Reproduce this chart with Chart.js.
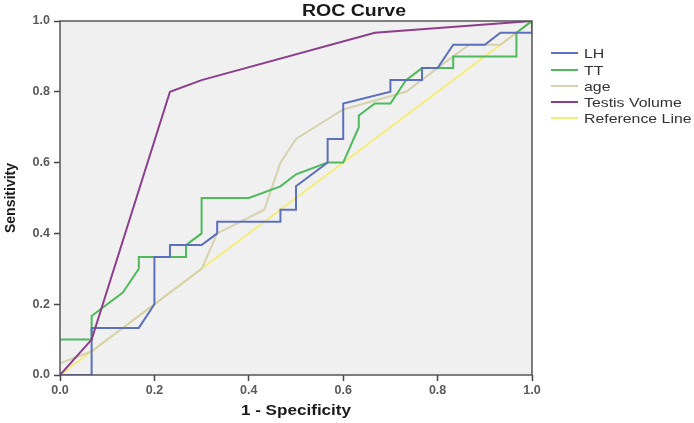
<!DOCTYPE html>
<html>
<head>
<meta charset="utf-8">
<script src="https://cdn.jsdelivr.net/npm/chart.js@4"></script>
<style>
  html, body { margin: 0; padding: 0; background: #ffffff; }
  #wrap { width: 694px; height: 423px; }
</style>
</head>
<body>
<div id="wrap"><canvas id="myChart" width="694" height="423"></canvas></div>
<script>
// ROC curve points (1 - specificity, sensitivity)
var lhX = [0, 0.067, 0.067, 0.167, 0.2, 0.2, 0.233, 0.233, 0.3, 0.333, 0.333, 0.467, 0.467, 0.5, 0.5, 0.567, 0.567, 0.6, 0.6, 0.7, 0.7, 0.767, 0.767, 0.8, 0.833, 0.9, 0.933, 1, 1];
var lhY = [0, 0, 0.133, 0.133, 0.2, 0.333, 0.333, 0.367, 0.367, 0.4, 0.433, 0.433, 0.467, 0.467, 0.533, 0.6, 0.667, 0.667, 0.767, 0.8, 0.833, 0.833, 0.867, 0.867, 0.933, 0.933, 0.967, 0.967, 1];

var ttX = [0, 0.067, 0.067, 0.133, 0.167, 0.167, 0.267, 0.267, 0.3, 0.3, 0.4, 0.467, 0.5, 0.567, 0.6, 0.633, 0.633, 0.667, 0.7, 0.733, 0.767, 0.833, 0.833, 0.967, 0.967, 1];
var ttY = [0.1, 0.1, 0.167, 0.233, 0.3, 0.333, 0.333, 0.367, 0.4, 0.5, 0.5, 0.533, 0.567, 0.6, 0.6, 0.7, 0.733, 0.767, 0.767, 0.833, 0.867, 0.867, 0.9, 0.9, 0.967, 1];

var ageX = [0, 0.067, 0.3, 0.333, 0.433, 0.467, 0.5, 0.6, 0.733, 0.833, 0.867, 0.933, 1];
var ageY = [0.033, 0.067, 0.3, 0.4, 0.467, 0.6, 0.667, 0.75, 0.8, 0.9, 0.933, 0.933, 1];

var tvX = [0, 0.067, 0.233, 0.3, 0.667, 1];
var tvY = [0, 0.1, 0.8, 0.833, 0.967, 1];

var refX = [0, 1];
var refY = [0, 1];

var labels = ["LH", "TT", "age", "Testis Volume", "Reference Line"];
var colors = ["rgb(92,112,190)", "rgb(78,186,92)", "rgb(214,209,174)", "rgb(140,62,140)", "rgb(242,237,125)"];

function pts(xs, ys) {
  var out = [];
  for (var i = 0; i < xs.length; i++) out.push({x: xs[i], y: ys[i]});
  return out;
}

var series = [pts(lhX, lhY), pts(ttX, ttY), pts(ageX, ageY), pts(tvX, tvY), pts(refX, refY)];
var drawOrder = [1, 2, 3, 0, 5];

var datasets = series.map(function(d, i) {
  return {
    label: labels[i],
    data: d,
    showLine: true,
    borderColor: colors[i],
    backgroundColor: colors[i],
    borderWidth: 2,
    pointRadius: 0,
    tension: 0,
    order: drawOrder[i]
  };
});

// stretched text helper (the original picture is a bit wide)
var SX = 1.22;
function stretchText(ctx, txt, x, y, align) {
  ctx.save();
  ctx.translate(x, y);
  ctx.scale(SX, 1);
  ctx.textAlign = align;
  ctx.fillText(txt, 0, 0);
  ctx.restore();
}

var decor = {
  id: 'decor',
  beforeDatasetsDraw: function(chart) {
    var a = chart.chartArea, c = chart.ctx;
    c.save();
    c.fillStyle = '#f0f0f0';
    c.fillRect(a.left, a.top, a.right - a.left, a.bottom - a.top);
    c.restore();
  },
  afterDatasetsDraw: function(chart) {
    var a = chart.chartArea, c = chart.ctx;
    c.save();
    c.strokeStyle = '#555555';
    c.lineWidth = 1.5;
    c.strokeRect(a.left, a.top, a.right - a.left, a.bottom - a.top);

    // title
    c.fillStyle = '#1a1a1a';
    c.textBaseline = 'alphabetic';
    c.font = 'bold 16px "Liberation Sans", Arial, sans-serif';
    stretchText(c, 'ROC Curve', 354, 16, 'center');

    // x title
    c.font = 'bold 14px "Liberation Sans", Arial, sans-serif';
    stretchText(c, '1 - Specificity', (a.left + a.right) / 2, 415, 'center');

    // y title
    c.save();
    c.translate(15, (a.top + a.bottom) / 2);
    c.rotate(-Math.PI / 2);
    c.textAlign = 'center';
    c.fillText('Sensitivity', 0, 0);
    c.restore();

    // legend
    var ys = [53, 70, 86, 102, 118];
    c.font = '13px "Liberation Sans", Arial, sans-serif';
    c.textBaseline = 'middle';
    for (var i = 0; i < labels.length; i++) {
      c.strokeStyle = colors[i];
      c.lineWidth = 2;
      c.beginPath();
      c.moveTo(551, ys[i]);
      c.lineTo(578, ys[i]);
      c.stroke();
      c.fillStyle = '#333333';
      stretchText(c, labels[i], 584, ys[i] + 1, 'left');
    }
    c.restore();
  }
};

var ctx = document.getElementById("myChart");
new Chart(ctx, {
  type: 'scatter',
  data: { datasets: datasets },
  plugins: [decor],
  options: {
    responsive: false,
    animation: false,
    layout: { padding: { top: 21, right: 162, left: 0, bottom: 0 } },
    plugins: {
      legend: { display: false },
      title: { display: false },
      tooltip: { enabled: false }
    },
    scales: {
      x: {
        type: 'linear',
        min: 0, max: 1,
        afterFit: function(s) { s.height = 48; },
        border: { display: false },
        grid: { drawOnChartArea: false, drawTicks: true, tickLength: 6, tickColor: '#444444', tickWidth: 1.5 },
        ticks: {
          stepSize: 0.2,
          padding: 2,
          color: '#5a5a5a',
          font: { family: '"Liberation Sans", Arial, sans-serif', size: 12.5, weight: 'bold' },
          callback: function(v) { return v.toFixed(1); }
        }
      },
      y: {
        type: 'linear',
        min: 0, max: 1,
        afterFit: function(s) { s.width = 60; },
        border: { display: false },
        grid: { drawOnChartArea: false, drawTicks: true, tickLength: 6, tickColor: '#444444', tickWidth: 1.5 },
        ticks: {
          stepSize: 0.2,
          padding: 4,
          color: '#5a5a5a',
          font: { family: '"Liberation Sans", Arial, sans-serif', size: 12.5, weight: 'bold' },
          callback: function(v) { return v.toFixed(1); }
        }
      }
    }
  }
});
</script>
</body>
</html>
